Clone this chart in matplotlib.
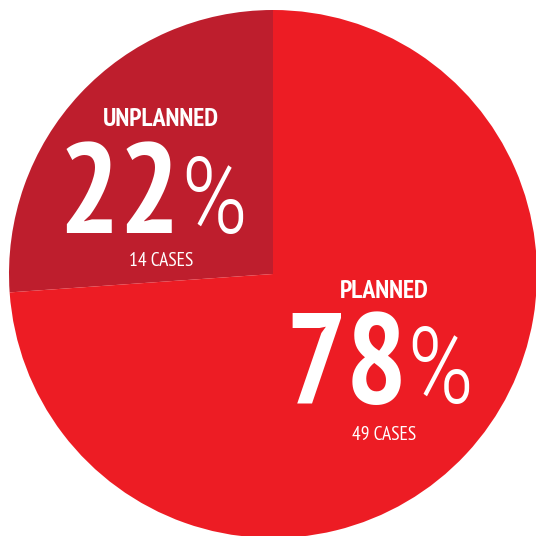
import matplotlib
matplotlib.use('Agg')
import matplotlib.pyplot as plt

# данные
categories = ['UNPLANNED', 'PLANNED']
cases = [14, 49]
percents = [22, 78]
# доли секторов, как они нарисованы на картинке (в градусах)
wedge_deg = [94, 266]
colors = ['#BE1E2D', '#ED1C24']

W = 536
fig = plt.figure(figsize=(5.36, 5.36), dpi=100)
cx, cy, r = 273, 274, 264
ax = fig.add_axes([(cx - r) / W, 1 - (cy + r) / W, 2 * r / W, 2 * r / W])
ax.pie(wedge_deg, colors=colors, startangle=90, counterclock=True,
       radius=1, wedgeprops=dict(linewidth=0))
ax.set_xlim(-1, 1)
ax.set_ylim(-1, 1)
ax.axis('off')

fam = ['PT Sans Narrow', 'Roboto Condensed', 'DejaVu Sans']
fam_light = ['Roboto Condensed', 'DejaVu Sans']


def put(x, y, s, family=fam, **kw):
    fig.text(x / W, 1 - y / W, s, color='white', family=family, **kw)


# положение подписей в пикселях: центр x, y названия, правый край цифр, базовая линия, y случаев
pos = [(161, 119, 181, 233, 261), (384, 291, 407, 403, 435)]
for i in range(2):
    x, yt, xr, yb, yc = pos[i]
    put(x, yt, categories[i], fontsize=18.5, fontweight='bold', ha='center', va='center')
    put(xr, yb, str(percents[i]), fontsize=92, fontweight='bold', ha='right', va='baseline')
    put(xr - 1, yb, '%', fontsize=76, fontweight='light', ha='left', va='baseline', family=fam_light)
    put(x, yc, f'{cases[i]} CASES', fontsize=14, ha='center', va='center')

fig.savefig('out.png', dpi=100)
